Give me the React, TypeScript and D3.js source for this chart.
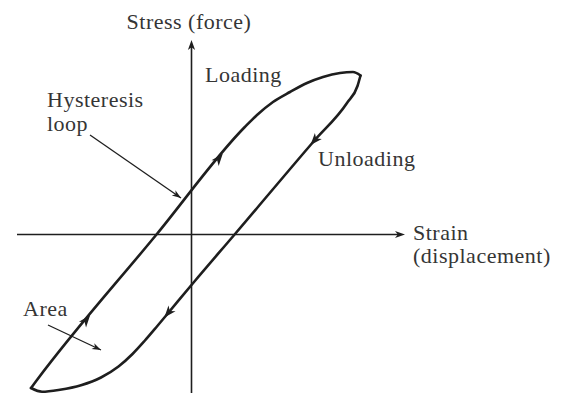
import React from 'react';
import * as d3 from 'd3';

// Loading branch of the hysteresis loop, from the lower-left tip to the upper-right tip
const loadingStrain = [-16.05, -15.53, -3.5, 5.33, 6.55, 8.15, 9.85, 11.55, 13.15, 14.85, 16.15, 16.9];
const loadingStress = [-15.35, -14.65, 0, 10.75, 11.95, 13.25, 14.25, 15.15, 15.75, 16.15, 16.25, 15.9];

// Unloading branch, between the two tips (tips themselves are shared with the loading branch)
const unloadingStrain = [16.6, 15.55, 12.25, 4.31, 0.25, -2.25, -3.5, -4.7, -5.9, -7.3, -9.05, -11.05, -13.15, -14.95];
const unloadingStress = [14.85, 13.15, 9.35, 0, -4.75, -7.75, -9.25, -10.65, -11.95, -13.2, -14.3, -15.07, -15.52, -15.72];

// Direction arrows sit on the straight parts of each branch (given by stress level)
const loadingArrowStress = [-8.55, 7.6];
const unloadingArrowStress = [9.4, -7.85];

// Axis extents
const strainAxis = [-17.45, 21.35];
const stressAxis = [-17.5, 19.45];

const W = 566;
const H = 393;

const xScale = d3.scaleLinear().domain([-10, 10]).range([91.5, 291.5]);
const yScale = d3.scaleLinear().domain([-10, 10]).range([334.5, 134.5]);

type P = [number, number];

const toPts = (xs: number[], ys: number[]): P[] => xs.map((x, i) => [xScale(x), yScale(ys[i])]);

const loadingPts = toPts(loadingStrain, loadingStress);
const unloadingInner = toPts(unloadingStrain, unloadingStress);
// Unloading drawn left-to-right so both branches run in increasing strain
const unloadingPts: P[] = [loadingPts[0], ...unloadingInner.slice().reverse(), loadingPts[loadingPts.length - 1]];

const branchLine = d3
  .line<P>()
  .x((d) => d[0])
  .y((d) => d[1])
  .curve(d3.curveMonotoneX);

// Point on a polyline at a given stress, with its heading in travel direction
function pointAtStress(pts: P[], stress: number, reverse: boolean) {
  const y = yScale(stress);
  for (let i = 0; i < pts.length - 1; i++) {
    const [x0, y0] = pts[i];
    const [x1, y1] = pts[i + 1];
    if ((y - y0) * (y - y1) <= 0 && y0 !== y1) {
      const t = (y - y0) / (y1 - y0);
      const ang = reverse ? Math.atan2(y0 - y1, x0 - x1) : Math.atan2(y1 - y0, x1 - x0);
      return { x: x0 + t * (x1 - x0), y, angle: (ang * 180) / Math.PI };
    }
  }
  return { x: pts[0][0], y, angle: 0 };
}

const ink = '#1e1e1e';
const textInk = '#353535';
const font = "'Liberation Serif', 'Times New Roman', serif";

function Head({ x, y, angle, len = 10, half = 3.6 }: { x: number; y: number; angle: number; len?: number; half?: number }) {
  return (
    <path
      d={`M0,0 L${-len},${-half} L${-len * 0.72},0 L${-len},${half} Z`}
      transform={`translate(${x},${y}) rotate(${angle})`}
      fill={ink}
    />
  );
}

function Pointer({ x1, y1, x2, y2 }: { x1: number; y1: number; x2: number; y2: number }) {
  const angle = (Math.atan2(y2 - y1, x2 - x1) * 180) / Math.PI;
  return (
    <g>
      <line x1={x1} y1={y1} x2={x2} y2={y2} stroke={ink} strokeWidth={1.3} />
      <Head x={x2} y={y2} angle={angle} len={9} half={3.2} />
    </g>
  );
}

export default function App() {
  const ox = xScale(0);
  const oy = yScale(0);

  const arrows = [
    ...loadingArrowStress.map((s) => pointAtStress(loadingPts, s, false)),
    ...unloadingArrowStress.map((s) => pointAtStress(unloadingPts, s, true)),
  ];

  return (
    <svg
      width={W}
      height={H}
      style={{ position: 'absolute', left: 0, top: 0, background: '#fff' }}
      fontFamily={font}
    >
      <rect width={W} height={H} fill="#fff" />

      {/* Axes */}
      <line x1={xScale(strainAxis[0])} y1={oy} x2={xScale(strainAxis[1]) - 6} y2={oy} stroke={ink} strokeWidth={1.6} />
      <Head x={xScale(strainAxis[1])} y={oy} angle={0} len={10} half={3.6} />
      <line x1={ox} y1={yScale(stressAxis[0])} x2={ox} y2={yScale(stressAxis[1]) + 6} stroke={ink} strokeWidth={1.6} />
      <Head x={ox} y={yScale(stressAxis[1])} angle={-90} len={10} half={3.6} />

      {/* Loop branches */}
      <g fill="none" stroke={ink} strokeWidth={2.6} strokeLinejoin="round" strokeLinecap="round">
        <path d={branchLine(loadingPts) ?? ''} />
        <path d={branchLine(unloadingPts) ?? ''} />
      </g>

      {arrows.map((a, i) => {
        const r = (a.angle * Math.PI) / 180;
        return <Head key={i} x={a.x + 6 * Math.cos(r)} y={a.y + 6 * Math.sin(r)} angle={a.angle} len={12} half={4.6} />;
      })}

      {/* Annotation pointers */}
      <Pointer x1={90} y1={135} x2={181} y2={198} />
      <Pointer x1={48} y1={325} x2={101} y2={350} />

      {/* Labels */}
      <g fill={textInk} fontSize={22} letterSpacing={0.5}>
        <text x={189} y={29} textAnchor="middle">Stress (force)</text>
        <text x={205} y={82}>Loading</text>
        <text x={47} y={107}>Hysteresis</text>
        <text x={47} y={131}>loop</text>
        <text x={318} y={166}>Unloading</text>
        <text x={413} y={240}>Strain</text>
        <text x={413} y={263}>(displacement)</text>
        <text x={23} y={316}>Area</text>
      </g>
    </svg>
  );
}
